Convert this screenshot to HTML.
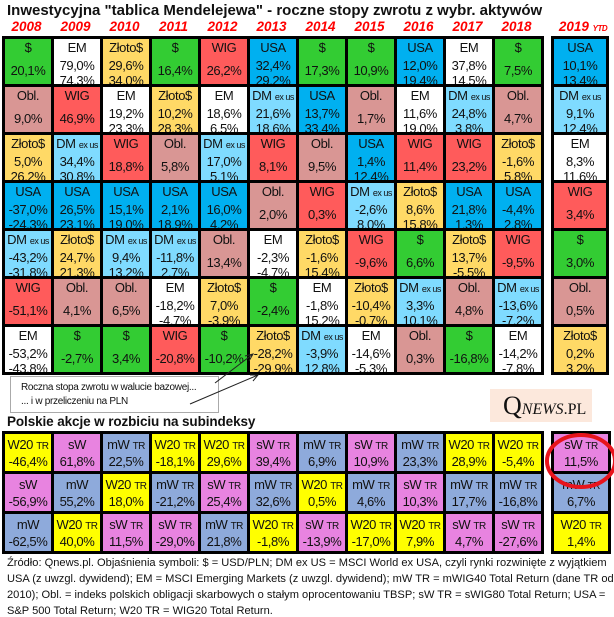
<!DOCTYPE html>
<html><head><meta charset="utf-8"><style>
*{margin:0;padding:0;box-sizing:border-box}
body{width:614px;height:615px;background:#fff;position:relative;overflow:hidden;font-family:"Liberation Sans",Arial,sans-serif;color:#111}
.t{position:absolute;font-weight:bold;white-space:nowrap}
.yr{position:absolute;top:19px;font:italic bold 13.5px "Liberation Sans",sans-serif;color:#f00;text-align:center;width:49px}
.g{position:absolute;display:grid;background:#000;gap:3px;padding:3px;grid-auto-flow:column}
.m{grid-template-rows:repeat(7,45px)}
.s{grid-template-rows:repeat(3,37px)}
.c{position:relative;overflow:hidden;font-size:13px;text-align:center;line-height:15px;letter-spacing:-0.4px}
.c div{position:absolute;left:-4px;right:-4px;white-space:nowrap}
.m .c div:nth-child(1){top:1px}
.m .c div:nth-child(2){top:19px}
.m .c div:nth-child(3){top:34px}
.m .c.o div:nth-child(2){top:24px}
.s .c div:nth-child(1){top:3px}
.s .c div:nth-child(2){top:20px}
small{font-size:9px;letter-spacing:-0.5px}
.s small{font-size:10px}
.G{background:#33cc33}.W{background:#fff}.Y{background:#ffd966}.R{background:#ff5b5b}.B{background:#00b0f0}.L{background:#7fdbff}.P{background:#d99694}
.y{background:#ffff00}.p{background:#e883e0}.b{background:#8eaadb}
.f{position:absolute;left:7px;font-size:11.1px;white-space:nowrap;color:#111;letter-spacing:0}
</style></head><body>
<div class="t" style="left:7px;top:2px;font-size:15px;letter-spacing:0">Inwestycyjna "tablica Mendelejewa" - roczne stopy zwrotu z wybr. aktywów</div>
<div class="yr" style="left:2px">2008</div><div class="yr" style="left:51px">2009</div><div class="yr" style="left:100px">2010</div><div class="yr" style="left:149px">2011</div><div class="yr" style="left:198px">2012</div><div class="yr" style="left:247px">2013</div><div class="yr" style="left:296px">2014</div><div class="yr" style="left:345px">2015</div><div class="yr" style="left:394px">2016</div><div class="yr" style="left:443px">2017</div><div class="yr" style="left:492px">2018</div>
<div class="yr" style="left:553px;width:60px">2019 <small style="font-size:8px">YTD</small></div>

<div class="g m" style="left:2px;top:36px;grid-template-columns:repeat(11,46px)">
<div class="c G o"><div>$</div><div>20,1%</div></div>
<div class="c P o"><div>Obl.</div><div>9,0%</div></div>
<div class="c Y"><div>Złoto$</div><div>5,0%</div><div>26,2%</div></div>
<div class="c B"><div>USA</div><div>-37,0%</div><div>-24,3%</div></div>
<div class="c L"><div>DM <small>ex us</small></div><div>-43,2%</div><div>-31,8%</div></div>
<div class="c R o"><div>WIG</div><div>-51,1%</div></div>
<div class="c W"><div>EM</div><div>-53,2%</div><div>-43,8%</div></div>

<div class="c W"><div>EM</div><div>79,0%</div><div>74,3%</div></div>
<div class="c R o"><div>WIG</div><div>46,9%</div></div>
<div class="c L"><div>DM <small>ex us</small></div><div>34,4%</div><div>30,8%</div></div>
<div class="c B"><div>USA</div><div>26,5%</div><div>23,1%</div></div>
<div class="c Y"><div>Złoto$</div><div>24,7%</div><div>21,3%</div></div>
<div class="c P o"><div>Obl.</div><div>4,1%</div></div>
<div class="c G o"><div>$</div><div>-2,7%</div></div>

<div class="c Y"><div>Złoto$</div><div>29,6%</div><div>34,0%</div></div>
<div class="c W"><div>EM</div><div>19,2%</div><div>23,3%</div></div>
<div class="c R o"><div>WIG</div><div>18,8%</div></div>
<div class="c B"><div>USA</div><div>15,1%</div><div>19,0%</div></div>
<div class="c L"><div>DM <small>ex us</small></div><div>9,4%</div><div>13,2%</div></div>
<div class="c P o"><div>Obl.</div><div>6,5%</div></div>
<div class="c G o"><div>$</div><div>3,4%</div></div>

<div class="c G o"><div>$</div><div>16,4%</div></div>
<div class="c Y"><div>Złoto$</div><div>10,2%</div><div>28,3%</div></div>
<div class="c P o"><div>Obl.</div><div>5,8%</div></div>
<div class="c B"><div>USA</div><div>2,1%</div><div>18,9%</div></div>
<div class="c L"><div>DM <small>ex us</small></div><div>-11,8%</div><div>2,7%</div></div>
<div class="c W"><div>EM</div><div>-18,2%</div><div>-4,7%</div></div>
<div class="c R o"><div>WIG</div><div>-20,8%</div></div>

<div class="c R o"><div>WIG</div><div>26,2%</div></div>
<div class="c W"><div>EM</div><div>18,6%</div><div>6,5%</div></div>
<div class="c L"><div>DM <small>ex us</small></div><div>17,0%</div><div>5,1%</div></div>
<div class="c B"><div>USA</div><div>16,0%</div><div>4,2%</div></div>
<div class="c P o"><div>Obl.</div><div>13,4%</div></div>
<div class="c Y"><div>Złoto$</div><div>7,0%</div><div>-3,9%</div></div>
<div class="c G o"><div>$</div><div>-10,2%</div></div>

<div class="c B"><div>USA</div><div>32,4%</div><div>29,2%</div></div>
<div class="c L"><div>DM <small>ex us</small></div><div>21,6%</div><div>18,6%</div></div>
<div class="c R o"><div>WIG</div><div>8,1%</div></div>
<div class="c P o"><div>Obl.</div><div>2,0%</div></div>
<div class="c W"><div>EM</div><div>-2,3%</div><div>-4,7%</div></div>
<div class="c G o"><div>$</div><div>-2,4%</div></div>
<div class="c Y"><div>Złoto$</div><div>-28,2%</div><div>-29,9%</div></div>

<div class="c G o"><div>$</div><div>17,3%</div></div>
<div class="c B"><div>USA</div><div>13,7%</div><div>33,4%</div></div>
<div class="c P o"><div>Obl.</div><div>9,5%</div></div>
<div class="c R o"><div>WIG</div><div>0,3%</div></div>
<div class="c Y"><div>Złoto$</div><div>-1,6%</div><div>15,4%</div></div>
<div class="c W"><div>EM</div><div>-1,8%</div><div>15,2%</div></div>
<div class="c L"><div>DM <small>ex us</small></div><div>-3,9%</div><div>12,8%</div></div>

<div class="c G o"><div>$</div><div>10,9%</div></div>
<div class="c P o"><div>Obl.</div><div>1,7%</div></div>
<div class="c B"><div>USA</div><div>1,4%</div><div>12,4%</div></div>
<div class="c L"><div>DM <small>ex us</small></div><div>-2,6%</div><div>8,0%</div></div>
<div class="c R o"><div>WIG</div><div>-9,6%</div></div>
<div class="c Y"><div>Złoto$</div><div>-10,4%</div><div>-0,7%</div></div>
<div class="c W"><div>EM</div><div>-14,6%</div><div>-5,3%</div></div>

<div class="c B"><div>USA</div><div>12,0%</div><div>19,4%</div></div>
<div class="c W"><div>EM</div><div>11,6%</div><div>19,0%</div></div>
<div class="c R o"><div>WIG</div><div>11,4%</div></div>
<div class="c Y"><div>Złoto$</div><div>8,6%</div><div>15,8%</div></div>
<div class="c G o"><div>$</div><div>6,6%</div></div>
<div class="c L"><div>DM <small>ex us</small></div><div>3,3%</div><div>10,1%</div></div>
<div class="c P o"><div>Obl.</div><div>0,3%</div></div>

<div class="c W"><div>EM</div><div>37,8%</div><div>14,5%</div></div>
<div class="c L"><div>DM <small>ex us</small></div><div>24,8%</div><div>3,8%</div></div>
<div class="c R o"><div>WIG</div><div>23,2%</div></div>
<div class="c B"><div>USA</div><div>21,8%</div><div>1,3%</div></div>
<div class="c Y"><div>Złoto$</div><div>13,7%</div><div>-5,5%</div></div>
<div class="c P o"><div>Obl.</div><div>4,8%</div></div>
<div class="c G o"><div>$</div><div>-16,8%</div></div>

<div class="c G o"><div>$</div><div>7,5%</div></div>
<div class="c P o"><div>Obl.</div><div>4,7%</div></div>
<div class="c Y"><div>Złoto$</div><div>-1,6%</div><div>5,8%</div></div>
<div class="c B"><div>USA</div><div>-4,4%</div><div>2,8%</div></div>
<div class="c R o"><div>WIG</div><div>-9,5%</div></div>
<div class="c L"><div>DM <small>ex us</small></div><div>-13,6%</div><div>-7,2%</div></div>
<div class="c W"><div>EM</div><div>-14,2%</div><div>-7,8%</div></div>
</div>

<div class="g m" style="left:551px;top:36px;grid-template-columns:52px">
<div class="c B"><div>USA</div><div>10,1%</div><div>13,4%</div></div>
<div class="c L"><div>DM <small>ex us</small></div><div>9,1%</div><div>12,4%</div></div>
<div class="c W"><div>EM</div><div>8,3%</div><div>11,6%</div></div>
<div class="c R o"><div>WIG</div><div>3,4%</div></div>
<div class="c G o"><div>$</div><div>3,0%</div></div>
<div class="c P o"><div>Obl.</div><div>0,5%</div></div>
<div class="c Y"><div>Złoto$</div><div>0,2%</div><div>3,2%</div></div>
</div>

<div style="position:absolute;left:10px;top:376px;width:209px;height:37px;border:1px solid #aaa;background:#fff"></div>
<div class="f" style="left:21px;top:382px;font-size:10px;letter-spacing:-0.3px">Roczna stopa zwrotu w walucie  bazowej...</div>
<div class="f" style="left:21px;top:396px;font-size:10px;letter-spacing:-0.3px">... i w przeliczeniu na PLN</div>
<svg style="position:absolute;left:0;top:0" width="614" height="615">
<line x1="215" y1="383" x2="253" y2="354" stroke="#222" stroke-width="1"/>
<polyline points="245,356 253,354 249,361" fill="none" stroke="#222"/>
<line x1="190" y1="404" x2="258" y2="375" stroke="#222" stroke-width="1"/>
<polyline points="250,375 258,375 253,381" fill="none" stroke="#222"/>
</svg>

<div style="position:absolute;left:490px;top:389px;width:102px;height:33px;background:#fce8dc"></div>
<div style="position:absolute;left:503px;top:391px;font-family:'Liberation Serif',serif;color:#111;white-space:nowrap"><span style="font-size:26px">Q</span><span style="font-size:16px;font-style:italic">NEWS</span><span style="font-size:16px">.PL</span></div>

<div class="t" style="left:7px;top:414px;font-size:13.5px;letter-spacing:-0.1px">Polskie akcje w rozbiciu na subindeksy</div>

<div class="g s" style="left:2px;top:431px;grid-template-columns:repeat(11,46px)">
<div class="c y"><div>W20 <small>TR</small></div><div>-46,4%</div></div>
<div class="c p"><div>sW</div><div>-56,9%</div></div>
<div class="c b"><div>mW</div><div>-62,5%</div></div>
<div class="c p"><div>sW</div><div>61,8%</div></div>
<div class="c b"><div>mW</div><div>55,2%</div></div>
<div class="c y"><div>W20 <small>TR</small></div><div>40,0%</div></div>
<div class="c b"><div>mW <small>TR</small></div><div>22,5%</div></div>
<div class="c y"><div>W20 <small>TR</small></div><div>18,0%</div></div>
<div class="c p"><div>sW <small>TR</small></div><div>11,5%</div></div>
<div class="c y"><div>W20 <small>TR</small></div><div>-18,1%</div></div>
<div class="c b"><div>mW <small>TR</small></div><div>-21,2%</div></div>
<div class="c p"><div>sW <small>TR</small></div><div>-29,0%</div></div>
<div class="c y"><div>W20 <small>TR</small></div><div>29,6%</div></div>
<div class="c p"><div>sW <small>TR</small></div><div>25,4%</div></div>
<div class="c b"><div>mW <small>TR</small></div><div>21,8%</div></div>
<div class="c p"><div>sW <small>TR</small></div><div>39,4%</div></div>
<div class="c b"><div>mW <small>TR</small></div><div>32,6%</div></div>
<div class="c y"><div>W20 <small>TR</small></div><div>-1,8%</div></div>
<div class="c b"><div>mW <small>TR</small></div><div>6,9%</div></div>
<div class="c y"><div>W20 <small>TR</small></div><div>0,5%</div></div>
<div class="c p"><div>sW <small>TR</small></div><div>-13,9%</div></div>
<div class="c p"><div>sW <small>TR</small></div><div>10,9%</div></div>
<div class="c b"><div>mW <small>TR</small></div><div>4,6%</div></div>
<div class="c y"><div>W20 <small>TR</small></div><div>-17,0%</div></div>
<div class="c b"><div>mW <small>TR</small></div><div>23,3%</div></div>
<div class="c p"><div>sW <small>TR</small></div><div>10,3%</div></div>
<div class="c y"><div>W20 <small>TR</small></div><div>7,9%</div></div>
<div class="c y"><div>W20 <small>TR</small></div><div>28,9%</div></div>
<div class="c b"><div>mW <small>TR</small></div><div>17,7%</div></div>
<div class="c p"><div>sW <small>TR</small></div><div>4,7%</div></div>
<div class="c y"><div>W20 <small>TR</small></div><div>-5,4%</div></div>
<div class="c b"><div>mW <small>TR</small></div><div>-16,8%</div></div>
<div class="c p"><div>sW <small>TR</small></div><div>-27,6%</div></div>
</div>

<div class="g s" style="left:551px;top:431px;grid-template-columns:54px">
<div class="c p"><div>sW <small>TR</small></div><div>11,5%</div></div>
<div class="c b"><div>mW <small>TR</small></div><div>6,7%</div></div>
<div class="c y"><div>W20 <small>TR</small></div><div>1,4%</div></div>
</div>

<svg style="position:absolute;left:0;top:0" width="614" height="615">
<ellipse cx="581" cy="461" rx="34" ry="26" fill="none" stroke="#e8141c" stroke-width="4"/>
</svg>

<div class="f" style="top:557px">Źródło: Qnews.pl. Objaśnienia symboli: $ = USD/PLN; DM ex US = MSCI World ex USA, czyli rynki rozwinięte z wyjątkiem</div>
<div class="f" style="top:573px">USA (z uwzgl. dywidend); EM = MSCI Emerging Markets (z uwzgl. dywidend); mW TR = mWIG40 Total Return (dane TR od</div>
<div class="f" style="top:589px">2010); Obl. = indeks polskich obligacji skarbowych o stałym oprocentowaniu TBSP; sW TR = sWIG80 Total Return; USA =</div>
<div class="f" style="top:605px">S&amp;P 500 Total Return; W20 TR = WIG20 Total Return.</div>
</body></html>
